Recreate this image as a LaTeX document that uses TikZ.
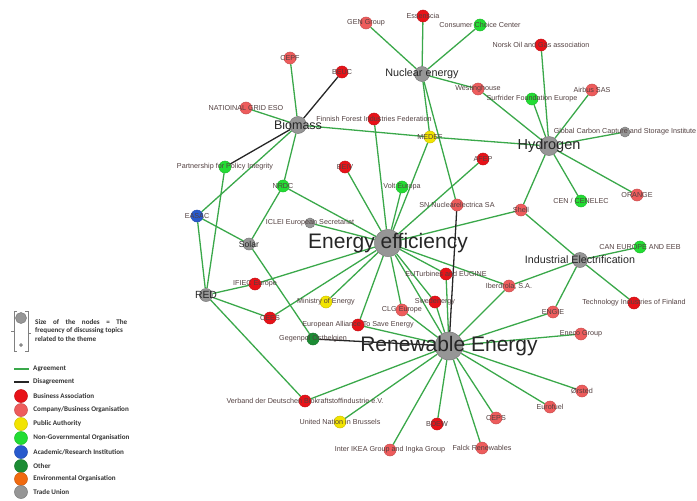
\documentclass[tikz,border=0pt]{standalone}
\usepackage{fontspec}
\setmainfont{Liberation Sans}
\newfontfamily\legfont{Carlito}
\usetikzlibrary{positioning,backgrounds}

\definecolor{cbusn}{RGB}{232,18,24}
\definecolor{ccomp}{RGB}{238,92,92}
\definecolor{cpub}{RGB}{242,228,0}
\definecolor{cngo}{RGB}{34,221,51}
\definecolor{cacad}{RGB}{40,90,205}
\definecolor{coth}{RGB}{28,140,52}
\definecolor{cenv}{RGB}{240,106,16}
\definecolor{ctu}{RGB}{150,150,150}
\definecolor{cedge}{RGB}{58,168,74}
\definecolor{clabel}{RGB}{82,64,64}

\tikzset{
  actor/.style={circle, inner sep=0pt, minimum size=12pt, line width=0.5pt},
  busn/.style={actor, fill=cbusn, draw=cbusn!85!black},
  comp/.style={actor, fill=ccomp, draw=ccomp!85!black},
  pub/.style={actor, fill=cpub, draw=cpub!85!black},
  ngo/.style={actor, fill=cngo, draw=cngo!85!black},
  acad/.style={actor, fill=cacad, draw=cacad!85!black},
  oth/.style={actor, fill=coth, draw=coth!85!black},
  envo/.style={actor, fill=cenv, draw=cenv!85!black},
  tu/.style={actor, fill=ctu, draw=ctu!80!black},
  hub/.style={tu, minimum size=#1},
  lbl/.style={inner sep=0pt, text=clabel, font=\fontsize{7.2}{8}\selectfont},
  hublbl/.style={inner sep=0pt, text=black!85, font=\fontsize{#1}{#1}\selectfont},
  agree/.style={draw=cedge, line width=1.3pt},
  disagree/.style={draw=black!85, line width=1.3pt},
  legtxt/.style={inner sep=0pt, anchor=west, text=black!80, font=\legfont\bfseries\fontsize{7.1}{8}\selectfont},
}

\begin{document}
\begin{tikzpicture}[x=1pt,y=1pt,yscale=-1]
\useasboundingbox (0,0) rectangle (697,501);

% Themes
\node [hub=27pt, label={[hublbl=21]center:Energy efficiency}] (eneff) at (388,243) {};
\node [hub=28pt, label={[hublbl=21]center:Renewable Energy}] (renew) at (449,346) {};
\node [hub=19pt, label={[hublbl=14.5]center:Hydrogen}] (hydro) at (549,146) {};
\node [hub=15pt, label={[hublbl=10.8]center:Nuclear energy}] (nuclear) at (422,74) {};
\node [hub=17pt, label={[hublbl=12.5]center:Biomass}] (biomass) at (298,125) {};
\node [hub=15pt, label={[hublbl=10.7]center:Industrial Electrification}] (indel) at (580,260) {};
\node [hub=12pt, label={[hublbl=8.6]center:Solar}] (solar) at (249,244) {};
\node [hub=13pt, label={[hublbl=10.4]center:RED}] (redhub) at (206,295) {};

% Actors, top
\node [comp, label={[lbl]center:GEN Group}] (gengrp) at (366,23) {};
\node [busn, label={[lbl]center:Essenscia}] (essenscia) at (423,16) {};
\node [ngo, label={[lbl]center:Consumer Choice Center}] (ccc) at (480,25) {};
\node [busn, label={[lbl]center:Norsk Oil and Gas association}] (norsk) at (541,45) {};
\node [comp, label={[lbl]center:Westinghouse}] (westing) at (478,89) {};
\node [ngo, label={[lbl]center:Surfrider Foundation Europe}] (surfrider) at (532,99) {};
\node [comp, label={[lbl]center:Airbus SAS}] (airbus) at (592,90) {};
\node [tu, minimum size=10pt, label={[lbl]center:Global Carbon Capture and Storage Institute}] (gccsi) at (625,132) {};
\node [comp, label={[lbl]center:CEPF}] (cepf) at (290,58) {};
\node [busn, label={[lbl]center:BEUC}] (beuc) at (342,72) {};
\node [comp, label={[lbl]center:NATIOINAL GRID ESO}] (ngeso) at (246,108) {};
\node [busn, label={[lbl]center:Finnish Forest Industries Federation}] (fffi) at (374,119) {};
\node [pub, label={[lbl]center:MEDEF}] (medef) at (430,137) {};

% Actors, middle
\node [ngo, label={[lbl]center:Partnership for Policy Integrity}] (ppi) at (225,167) {};
\node [ngo, label={[lbl]center:NRDC}] (nrdc) at (283,186) {};
\node [acad, label={[lbl]center:EASAC}] (easac) at (197,216) {};
\node [tu, minimum size=10pt, label={[lbl]center:ICLEI European Secretariat}] (iclei) at (310,223) {};
\node [busn, label={[lbl]center:BEIV}] (beiv) at (345,167) {};
\node [ngo, label={[lbl]center:Volt Europa}] (volt) at (402,187) {};
\node [busn, label={[lbl]center:AFEP}] (afep) at (483,159) {};
\node [comp, label={[lbl]center:SN Nuclearelectrica SA}] (snn) at (457,205) {};
\node [comp, label={[lbl]center:Shell}] (shell) at (521,210) {};
\node [ngo, label={[lbl]center:CEN / CENELEC}] (cenelec) at (581,201) {};
\node [comp, label={[lbl]center:ORANGE}] (orange) at (637,195) {};
\node [ngo, label={[lbl]center:CAN EUROPE AND EEB}] (caneeb) at (640,247) {};
\node [busn, label={[lbl]center:Technology Industries of Finland}] (techfin) at (634,303) {};
\node [comp, label={[lbl]center:ENGIE}] (engie) at (553,312) {};
\node [comp, label={[lbl]center:{Iberdrola, S.A.}}] (iberdrola) at (509,286) {};
\node [busn, label={[lbl]center:EUTurbines and EUGINE}] (euturb) at (446,274) {};
\node [busn, label={[lbl]center:Swedenergy}] (sweden) at (435,302) {};
\node [comp, label={[lbl]center:CLG Europe}] (clg) at (402,310) {};
\node [busn, label={[lbl]center:IFIEC Europe}] (ifiec) at (255,284) {};
\node [pub, label={[lbl]center:Ministry of Energy}] (ministry) at (326,302) {};
\node [busn, label={[lbl]center:CEES}] (cees) at (270,318) {};
\node [busn, label={[lbl]center:European Alliance To Save Energy}] (eustse) at (358,325) {};
\node [oth, label={[lbl]center:Gegenpol Ostbelgien}] (gegenpol) at (313,339) {};

% Actors, bottom
\node [comp, label={[lbl]center:Eneco Group}] (eneco) at (581,334) {};
\node [comp, label={[lbl]center:Ørsted}] (orsted) at (582,391) {};
\node [comp, label={[lbl]center:Eurofuel}] (eurofuel) at (550,407) {};
\node [comp, label={[lbl]center:CEPS}] (ceps) at (496,418) {};
\node [comp, label={[lbl]center:Falck Renewables}] (falck) at (482,448) {};
\node [busn, label={[lbl]center:BDEW}] (bdew) at (437,424) {};
\node [comp, label={[lbl]center:Inter IKEA Group and Ingka Group}] (ikea) at (390,450) {};
\node [pub, label={[lbl]center:United Nation in Brussels}] (unb) at (340,422) {};
\node [busn, label={[lbl]center:Verband der Deutschen Biokraftstoffindustrie e.V.}] (verband) at (305,401) {};

% Connectors
\begin{scope}[on background layer]
\draw [agree] (nuclear) -- (gengrp);
\draw [agree] (nuclear) -- (essenscia);
\draw [agree] (nuclear) -- (ccc);
\draw [agree] (nuclear) -- (westing);
\draw [agree] (nuclear) -- (medef);
\draw [agree] (nuclear) -- (snn);
\draw [agree] (westing) -- (hydro);
\draw [agree] (hydro) -- (norsk);
\draw [agree] (hydro) -- (surfrider);
\draw [agree] (hydro) -- (airbus);
\draw [agree] (hydro) -- (gccsi);
\draw [agree] (hydro) -- (cenelec);
\draw [agree] (hydro) -- (orange);
\draw [agree] (hydro) -- (medef);
\draw [agree] (hydro) -- (shell);
\draw [agree] (biomass) -- (cepf);
\draw [disagree] (biomass) -- (beuc);
\draw [agree] (biomass) -- (ngeso);
\draw [agree] (biomass) -- (medef);
\draw [disagree] (biomass) -- (ppi);
\draw [agree] (biomass) -- (easac);
\draw [agree] (biomass) -- (nrdc);
\draw [agree] (ppi) -- (redhub);
\draw [agree] (easac) -- (redhub);
\draw [agree] (easac) -- (solar);
\draw [agree] (nrdc) -- (solar);
\draw [agree] (nrdc) -- (eneff);
\draw [agree] (solar) -- (gegenpol);
\draw [agree] (redhub) -- (ifiec);
\draw [agree] (redhub) -- (cees);
\draw [agree] (redhub) -- (verband);
\foreach \a in {fffi,medef,beiv,volt,afep,shell,iclei,ifiec,cees,ministry,eustse,clg,sweden,euturb,iberdrola,renew}
  \draw [agree] (eneff) -- (\a);
\draw [disagree] (renew) -- (gegenpol);
\draw [disagree] (renew) -- (snn);
\foreach \a in {eustse,clg,sweden,euturb,iberdrola,engie,eneco,orsted,eurofuel,ceps,falck,bdew,ikea,unb,verband}
  \draw [agree] (renew) -- (\a);
\foreach \a in {shell,caneeb,techfin,engie,iberdrola}
  \draw [agree] (indel) -- (\a);
\end{scope}

% Legend
\node [tu, minimum size=11pt] (legbig) at (21,318) {};
\node [tu, minimum size=3pt] (legsmall) at (21,345) {};
\draw [gray, line width=0.6pt] (17,311) -- (14,311) -- (14,351) -- (17,351);
\draw [gray, line width=0.6pt] (25,311) -- (28,311) -- (28,351) -- (25,351);
\draw [gray, line width=0.6pt] (11,331) -- (14,331);
\draw [gray, line width=0.6pt] (28,333) -- (31,333);
\node [legtxt] (legsize) at (35,322) {\hbox to 92pt{Size\hfill of\hfill the\hfill nodes\hfill =\hfill The}};
\node [legtxt] (legfreq) at (35,331) {frequency of discussing topics};
\node [legtxt] (legrel) at (35,339) {related to the theme};

\coordinate (agrA) at (14,369);
\coordinate (agrB) at (29,369);
\draw [agree] (agrA) -- (agrB);
\node [legtxt, right=4pt of agrB] (legagr) {Agreement};
\coordinate (disA) at (14,382);
\coordinate (disB) at (29,382);
\draw [disagree] (disA) -- (disB);
\node [legtxt, right=4pt of disB] (legdis) {Disagreement};

\node [busn, minimum size=13pt] (legbusn) at (21,396) {};
\node [legtxt, right=5.5pt of legbusn] {Business Association};
\node [comp, minimum size=13pt] (legcomp) at (21,410) {};
\node [legtxt, right=5.5pt of legcomp] {Company/Business Organisation};
\node [pub, minimum size=13pt] (legpub) at (21,424) {};
\node [legtxt, right=5.5pt of legpub] {Public Authority};
\node [ngo, minimum size=13pt] (legngo) at (21,438) {};
\node [legtxt, right=5.5pt of legngo] {Non-Governmental Organisation};
\node [acad, minimum size=13pt] (legacad) at (21,452) {};
\node [legtxt, right=5.5pt of legacad] {Academic/Research Institution};
\node [oth, minimum size=13pt] (legoth) at (21,466) {};
\node [legtxt, right=5.5pt of legoth] {Other};
\node [envo, minimum size=13pt] (legenv) at (21,479) {};
\node [legtxt, right=5.5pt of legenv] {Environmental Organisation};
\node [tu, minimum size=13pt] (legtu) at (21,492) {};
\node [legtxt, right=5.5pt of legtu] {Trade Union};

\end{tikzpicture}
\end{document}
